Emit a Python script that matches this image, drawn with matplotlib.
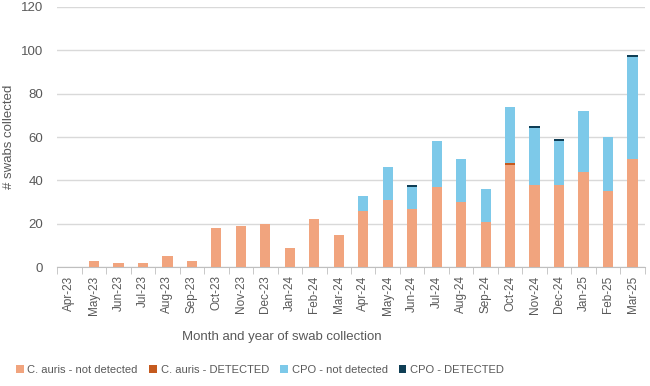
import matplotlib
matplotlib.use("Agg")
import matplotlib.pyplot as plt
import numpy as np
from matplotlib.patches import Patch

months = ["Apr-23", "May-23", "Jun-23", "Jul-23", "Aug-23", "Sep-23", "Oct-23", "Nov-23",
          "Dec-23", "Jan-24", "Feb-24", "Mar-24", "Apr-24", "May-24", "Jun-24", "Jul-24",
          "Aug-24", "Sep-24", "Oct-24", "Nov-24", "Dec-24", "Jan-25", "Feb-25", "Mar-25"]
auris_not_detected = [0, 3, 2, 2, 5, 3, 18, 19, 20, 9, 22, 15, 26, 31, 27, 37, 30, 21, 47, 38, 38, 44, 35, 50]
auris_detected = [0, 0, 0, 0, 0, 0, 0, 0, 0, 0, 0, 0, 0, 0, 0, 0, 0, 0, 1, 0, 0, 0, 0, 0]
cpo_not_detected = [0, 0, 0, 0, 0, 0, 0, 0, 0, 0, 0, 0, 7, 15, 10, 21, 20, 15, 26, 26, 20, 28, 25, 47]
cpo_detected = [0, 0, 0, 0, 0, 0, 0, 0, 0, 0, 0, 0, 0, 0, 1, 0, 0, 0, 0, 1, 1, 0, 0, 1]

series_names = ["C. auris - not detected", "C. auris - DETECTED", "CPO - not detected", "CPO - DETECTED"]
colors = ["#F1A47E", "#C55A1E", "#7DC9E9", "#0F3E55"]

plt.rcParams['font.family'] = ['Liberation Sans', 'DejaVu Sans']
text_color = "#595959"

fig = plt.figure(figsize=(6.5, 3.86), dpi=100)
ax = fig.add_axes([0.088, 0.308, 0.904, 0.674])

x = np.arange(len(months))
width = 0.42
bottom = np.zeros(len(months))
for vals, col in zip([auris_not_detected, auris_detected, cpo_not_detected, cpo_detected], colors):
    v = np.array(vals, dtype=float)
    ax.bar(x, v, width, bottom=bottom, color=col, zorder=3)
    bottom += v

ax.set_ylim(0, 120)
ax.set_xlim(-0.5, len(months) - 0.5)
ax.set_yticks(range(0, 121, 20))
ax.yaxis.grid(True, color="#D9D9D9", linewidth=1, zorder=0)
ax.set_xticks(x)
ax.set_xticklabels(months, rotation=90, fontsize=8.5, color=text_color)
ax.set_xticks(np.arange(-0.5, len(months), 1), minor=True)
ax.tick_params(axis='x', which='major', length=0, pad=6)
ax.tick_params(axis='x', which='minor', length=5, color="#BFBFBF", direction='out')
ax.tick_params(axis='y', length=0, labelsize=9.5, labelcolor=text_color, pad=10)
for s in ["top", "right", "left"]:
    ax.spines[s].set_visible(False)
ax.spines["bottom"].set_color("#BFBFBF")
ax.set_ylabel("# swabs collected", fontsize=9.5, color=text_color)
ax.yaxis.set_label_coords(-0.072, 0.5)

fig.text(0.434, 0.127, "Month and year of swab collection", ha="center", va="center",
         fontsize=9.5, color=text_color)

handles = [Patch(facecolor=c, edgecolor='none') for c in colors]
fig.legend(handles, series_names, loc="center", bbox_to_anchor=(0.40, 0.041), ncol=4,
           frameon=False, fontsize=8, handlelength=0.7, handleheight=0.75,
           handletextpad=0.35, columnspacing=1.0, labelcolor=text_color)

fig.savefig("out.png", dpi=100)
